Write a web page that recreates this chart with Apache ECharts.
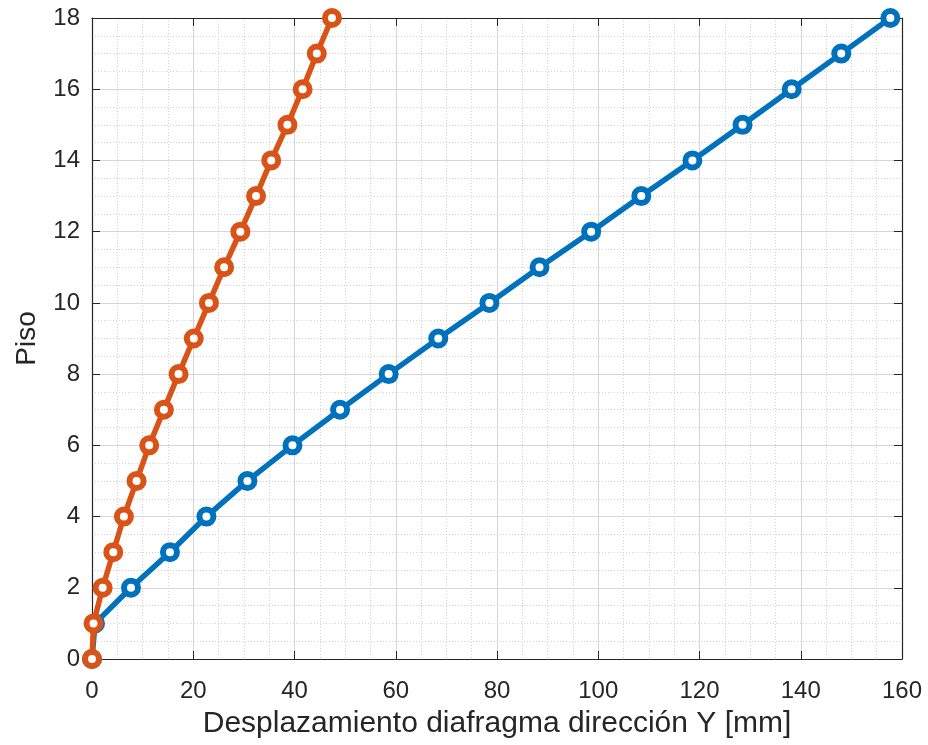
<!DOCTYPE html>
<html>
<head>
<meta charset="utf-8">
<script src="https://cdn.jsdelivr.net/npm/echarts@6/dist/echarts.min.js"></script>
<style>
html,body{margin:0;padding:0;background:#fff;}
#c{width:928px;height:745px;}
</style>
</head>
<body>
<div id="c"></div>
<script>
var floors = [0,1,2,3,4,5,6,7,8,9,10,11,12,13,14,15,16,17,18];
var dispBlue = [0,0.6,7.7,15.4,22.6,30.7,39.6,49.0,58.6,68.4,78.5,88.4,98.6,108.5,118.6,128.5,138.2,148.0,157.7];
var dispOrange = [0,0.3,2.1,4.2,6.3,8.8,11.3,14.2,17.1,20.1,23.1,26.1,29.3,32.4,35.4,38.6,41.6,44.4,47.4];
var xTicks = [0,20,40,60,80,100,120,140,160];
var yTicks = [0,2,4,6,8,10,12,14,16,18];
var xLabel = 'Desplazamiento diafragma dirección Y [mm]';
var yLabel = 'Piso';

var blueColor = '#0072BD', orangeColor = '#D95319';
var font = 'Liberation Sans, Arial, sans-serif';
function pairs(xs, ys){ return xs.map(function(v,i){ return [v, ys[i]]; }); }

var chart = echarts.init(document.getElementById('c'), null, {renderer:'canvas'});
var axisLineStyle = {color:'#262626', width:1.2};
var option = {
  animation:false,
  backgroundColor:'#ffffff',
  grid:{left:92, right:26, top:18, bottom:86, containLabel:false},
  xAxis:[{
    type:'value', min:xTicks[0], max:xTicks[xTicks.length-1], interval:20, position:'bottom',
    name:xLabel, nameLocation:'middle', nameGap:50,
    nameTextStyle:{fontFamily:font, fontSize:30, color:'#262626'},
    axisLine:{show:true, onZero:false, lineStyle:axisLineStyle},
    axisTick:{show:true, inside:true, length:8, lineStyle:{color:'#262626'}},
    axisLabel:{fontFamily:font, fontSize:24, color:'#262626', margin:20},
    splitLine:{show:true, lineStyle:{color:'#d6d6d6', width:1}},
    minorTick:{show:false, splitNumber:4},
    minorSplitLine:{show:true, lineStyle:{color:'#d2d2d2', width:1, type:[1,2]}}
  },{
    type:'value', min:xTicks[0], max:xTicks[xTicks.length-1], interval:20, position:'top',
    axisLine:{show:true, onZero:false, lineStyle:axisLineStyle},
    axisTick:{show:true, inside:true, length:8, lineStyle:{color:'#262626'}},
    axisLabel:{show:false}, splitLine:{show:false}
  }],
  yAxis:[{
    type:'value', min:yTicks[0], max:yTicks[yTicks.length-1], interval:2, position:'left',
    name:yLabel, nameLocation:'middle', nameGap:51, nameRotate:90,
    nameTextStyle:{fontFamily:font, fontSize:28, color:'#262626'},
    axisLine:{show:true, onZero:false, lineStyle:axisLineStyle},
    axisTick:{show:true, inside:true, length:8, lineStyle:{color:'#262626'}},
    axisLabel:{fontFamily:font, fontSize:24, color:'#262626', margin:12},
    splitLine:{show:true, lineStyle:{color:'#d6d6d6', width:1}},
    minorTick:{show:false, splitNumber:4},
    minorSplitLine:{show:true, lineStyle:{color:'#d2d2d2', width:1, type:[1,2]}}
  },{
    type:'value', min:yTicks[0], max:yTicks[yTicks.length-1], interval:2, position:'right',
    axisLine:{show:true, onZero:false, lineStyle:axisLineStyle},
    axisTick:{show:true, inside:true, length:8, lineStyle:{color:'#262626'}},
    axisLabel:{show:false}, splitLine:{show:false}
  }],
  series:[{
    type:'line', data:pairs(dispBlue, floors), xAxisIndex:0, yAxisIndex:0,
    symbol:'circle', symbolSize:14, showAllSymbol:true, clip:false,
    lineStyle:{color:blueColor, width:5.5},
    itemStyle:{color:'#ffffff', borderColor:blueColor, borderWidth:6},
    emphasis:{disabled:true}, z:2
  },{
    type:'line', data:pairs(dispOrange, floors), xAxisIndex:0, yAxisIndex:0,
    symbol:'circle', symbolSize:14, showAllSymbol:true, clip:false,
    lineStyle:{color:orangeColor, width:5.5},
    itemStyle:{color:'#ffffff', borderColor:orangeColor, borderWidth:6},
    emphasis:{disabled:true}, z:3
  }]
};
chart.setOption(option);
</script>
</body>
</html>
